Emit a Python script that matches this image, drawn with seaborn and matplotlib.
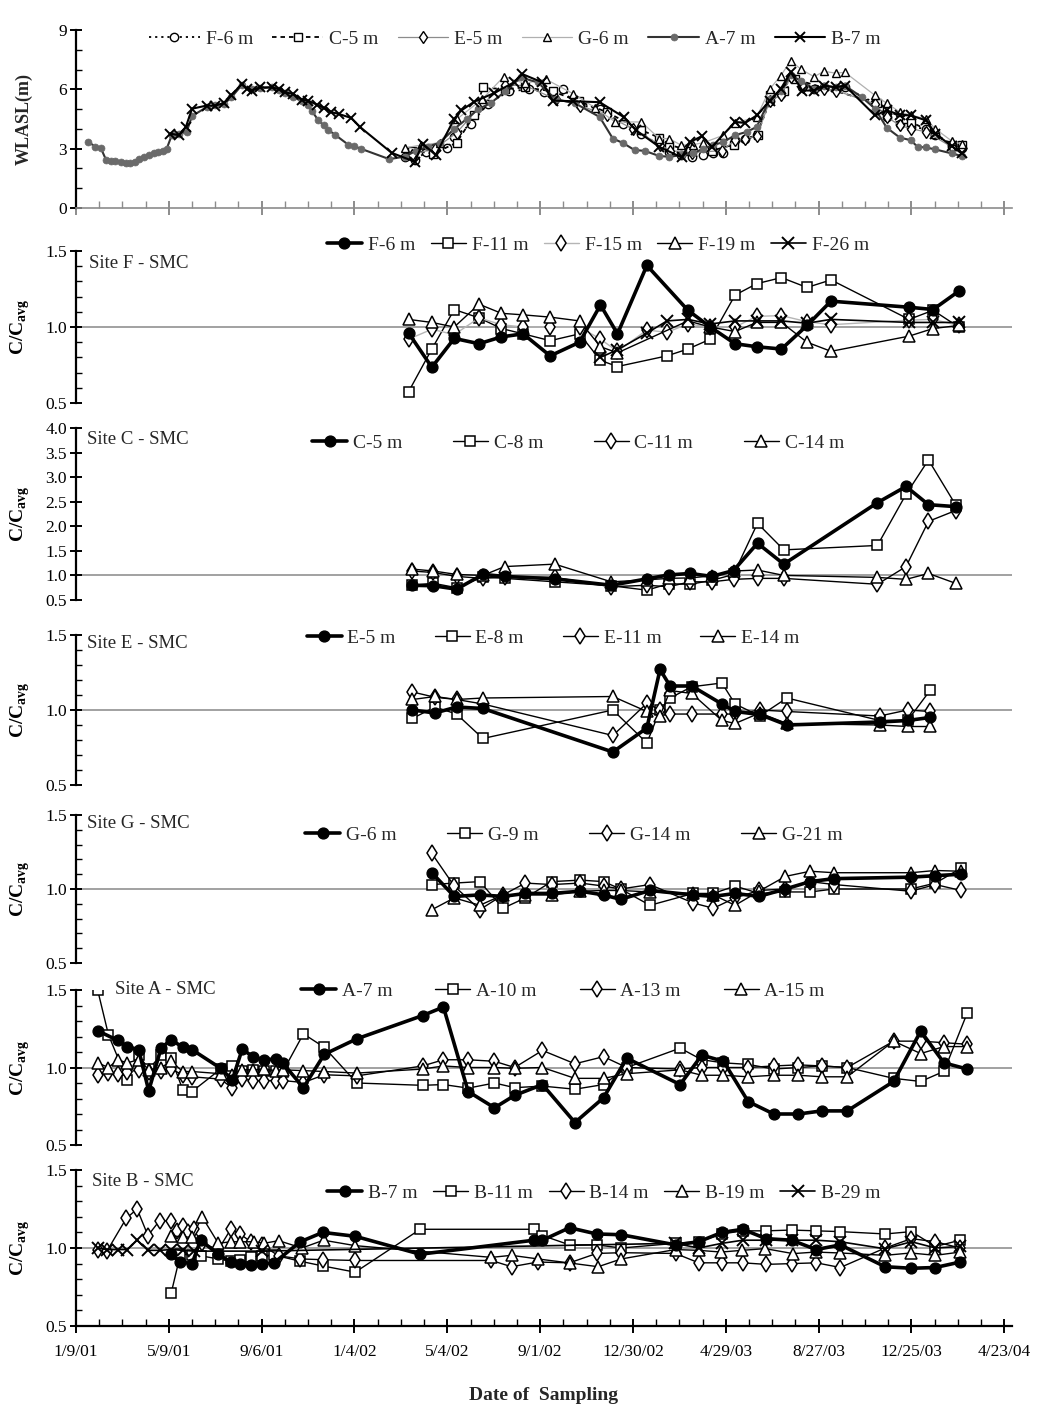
import numpy as np
import pandas as pd
import matplotlib
matplotlib.use("Agg")
import matplotlib.pyplot as plt
import matplotlib.dates as mdates
from matplotlib.ticker import MultipleLocator, FixedLocator, FormatStrFormatter
import seaborn as sns

sns.set_theme(style="white")
plt.rcParams["font.family"] = ["Liberation Serif", "DejaVu Serif"]
plt.rcParams["mathtext.fontset"] = "custom"
plt.rcParams["mathtext.rm"] = "Liberation Serif"
plt.rcParams["mathtext.bf"] = "Liberation Serif:bold"

START = pd.Timestamp("2001-01-09")
xtick_labels = ["1/9/01", "5/9/01", "9/6/01", "1/4/02", "5/4/02", "9/1/02",
                "12/30/02", "4/29/03", "8/27/03", "12/25/03", "4/23/04"]

# ---------------- WLASL (m) : days since 2001-01-09 ----------------
F6_w_days = [425, 438, 453, 480, 489, 511, 532, 560, 585, 605, 630, 651, 677, 707, 731, 767, 782, 796, 811, 824,
             837, 852, 865, 880, 897, 911, 924, 939, 954, 967, 982, 994, 1033, 1048, 1065, 1079, 1099, 1111, 1132, 1145]
F6_w = [2.59, 2.42, 2.84, 3.01, 3.6, 4.26, 5.27, 5.9, 6.0, 5.85, 6.0, 5.23, 5.0, 4.26, 3.76, 2.84, 2.68, 2.59, 2.68, 2.76,
        2.79, 3.46, 3.5, 3.68, 5.4, 5.77, 6.6, 6.1, 6.0, 6.1, 6.0, 6.1, 5.3, 4.6, 4.26, 4.1, 4.0, 3.68, 3.2, 3.01]
C5_w_days = [434, 462, 492, 515, 526, 554, 580, 616, 650, 686, 731, 754, 766, 794, 822, 850, 881, 897, 915, 930,
             1036, 1048, 1073, 1079, 1111, 1132, 1145]
C5_w = [2.9, 2.75, 3.3, 4.7, 6.1, 6.0, 6.1, 5.9, 5.4, 4.85, 3.93, 3.56, 3.2, 2.9, 2.9, 3.2, 3.7, 5.69, 5.9, 6.5,
        5.3, 4.93, 4.5, 4.35, 3.76, 3.18, 3.18]
E5_w_days = [435, 464, 492, 526, 555, 580, 620, 652, 686, 720, 755, 768, 796, 835, 852, 865, 880, 897, 911, 924,
             940, 967, 982, 1033, 1048, 1065, 1079, 1099, 1132, 1145]
E5_w = [2.7, 3.0, 3.8, 5.3, 6.2, 6.2, 5.5, 5.18, 4.68, 4.0, 3.2, 2.9, 2.8, 2.9, 3.43, 3.51, 3.63, 5.43, 5.69, 6.6,
        6.1, 6.02, 5.94, 5.27, 4.6, 4.18, 4.01, 3.85, 3.09, 3.01]
G6_w_days = [425, 446, 470, 493, 525, 553, 580, 607, 643, 671, 697, 731, 754, 767, 782, 797, 811, 837, 852, 880,
             897, 911, 924, 937, 954, 967, 982, 994, 1033, 1048, 1065, 1079, 1099, 1111, 1132, 1145]
G6_w = [3.04, 3.18, 3.3, 4.51, 5.5, 6.64, 6.3, 6.52, 5.77, 5.07, 4.35, 4.35, 3.51, 3.51, 3.18, 3.2, 3.3, 3.68, 4.3, 4.6,
        6.02, 6.69, 7.44, 7.02, 6.64, 6.91, 6.82, 6.86, 5.69, 5.3, 4.85, 4.7, 4.5, 4.0, 3.39, 3.23]
A7_w_days = [16, 25, 32, 39, 45, 51, 58, 64, 70, 76, 82, 88, 94, 101, 106, 112, 117, 124, 133, 143,
             150, 169, 180, 191, 201, 214, 227, 238, 253, 262, 270, 281, 292, 300, 305, 313, 320, 326, 335, 352,
             359, 368, 405, 425, 440, 455, 470, 489, 505, 520, 536, 555, 575, 597, 620, 645, 677, 694, 707, 722,
             735, 754, 767, 784, 797, 811, 824, 837, 852, 867, 880, 897, 911, 924, 937, 954, 967, 982, 994, 1016,
             1033, 1048, 1065, 1079, 1088, 1099, 1111, 1132, 1145]
A7_w = [3.34, 3.1, 3.04, 2.42, 2.39, 2.36, 2.34, 2.3, 2.27, 2.34, 2.5, 2.6, 2.68, 2.76, 2.84, 2.9, 2.97, 3.7, 3.75, 3.85,
        4.65, 5.1, 5.2, 5.25, 5.6, 6.2, 6.0, 6.05, 6.1, 5.95, 5.8, 5.6, 5.4, 5.2, 4.9, 4.45, 4.18, 3.95, 3.7, 3.2,
        3.13, 3.0, 2.47, 2.6, 2.9, 3.1, 3.3, 4.0, 4.5, 5.0, 5.3, 5.9, 6.6, 6.35, 5.5, 5.3, 4.6, 3.51, 3.29, 2.93,
        2.89, 2.63, 2.59, 2.68, 2.76, 3.0, 3.18, 3.34, 3.68, 3.85, 4.1, 5.52, 5.94, 6.7, 6.44, 6.02, 6.19, 6.1, 6.19, 5.6,
        5.02, 4.06, 3.56, 3.43, 3.09, 3.06, 2.96, 2.76, 2.63]
B7_w_days = [122, 133, 142, 150, 169, 180, 191, 201, 214, 221, 227, 238, 253, 262, 270, 281, 292, 300, 311, 320,
             330, 340, 356, 367, 408, 438, 448, 465, 489, 498, 515, 540, 566, 577, 603, 616, 642, 677, 708, 724,
             754, 783, 794, 809, 822, 852, 865, 880, 897, 911, 924, 939, 954, 967, 982, 994, 1033, 1048, 1065, 1079,
             1099, 1111, 1132, 1145]
B7_w = [3.76, 3.68, 4.1, 5.02, 5.18, 5.18, 5.3, 5.69, 6.27, 6.02, 5.94, 6.1, 6.1, 6.02, 5.85, 5.77, 5.47, 5.43, 5.23, 5.07,
        4.85, 4.75, 4.55, 4.1, 2.79, 2.34, 3.26, 2.68, 4.51, 4.93, 5.38, 5.8, 6.35, 6.77, 6.35, 5.43, 5.4, 5.35, 4.6, 3.93,
        3.09, 2.56, 3.34, 3.63, 3.09, 4.35, 4.3, 4.68, 5.43, 6.02, 6.86, 5.94, 5.94, 6.19, 6.1, 6.19, 4.68, 4.93, 4.72, 4.68,
        4.43, 3.76, 3.13, 2.76]

# ---------------- Site F (C/Cavg) ----------------
F6_days = [430, 460, 489, 521, 550, 578, 613, 651, 678, 700, 738, 791, 820, 852, 880, 912, 945, 976, 1077, 1108, 1141]
F6 = [0.96, 0.735, 0.925, 0.89, 0.935, 0.955, 0.81, 0.90, 1.145, 0.955, 1.405, 1.11, 1.0, 0.89, 0.87, 0.855, 1.01, 1.17,
      1.13, 1.115, 1.235]
F11_days = [430, 460, 489, 521, 550, 578, 613, 651, 678, 700, 764, 791, 820, 852, 880, 912, 945, 976, 1077, 1108, 1141]
F11 = [0.575, 0.855, 1.115, 1.06, 0.99, 0.955, 0.91, 0.955, 0.78, 0.74, 0.81, 0.855, 0.92, 1.21, 1.285, 1.325, 1.26,
       1.31, 1.05, 1.11, 1.0]
F15_days = [430, 460, 489, 521, 550, 578, 613, 651, 678, 700, 738, 764, 791, 820, 852, 880, 912, 945, 976, 1077, 1108, 1141]
F15 = [0.92, 0.985, 0.95, 1.06, 1.015, 1.0, 1.0, 1.0, 0.92, 0.84, 0.98, 0.965, 1.02, 1.0, 1.0, 1.07, 1.075, 1.035, 1.015,
       1.045, 1.05, 1.01]
F19_days = [430, 460, 489, 521, 550, 578, 613, 651, 678, 700, 791, 820, 852, 880, 912, 945, 976, 1077, 1108, 1141]
F19 = [1.05, 1.03, 1.0, 1.15, 1.09, 1.08, 1.065, 1.04, 0.87, 0.83, 1.04, 1.0, 0.97, 1.03, 1.03, 0.9, 0.84, 0.94, 0.99, 1.01]
F26_days = [678, 700, 738, 764, 791, 820, 852, 880, 912, 945, 976, 1077, 1108, 1141]
F26 = [0.80, 0.85, 0.96, 1.04, 1.05, 1.02, 1.04, 1.04, 1.04, 1.025, 1.05, 1.03, 1.03, 1.03]

# ---------------- Site C ----------------
C_days = [434, 462, 492, 526, 554, 619, 692, 738, 766, 794, 822, 850, 881, 915, 1036, 1073, 1102, 1137]
C5 = [0.80, 0.79, 0.72, 1.02, 0.98, 0.93, 0.80, 0.93, 1.01, 1.04, 0.98, 1.10, 1.655, 1.23, 2.48, 2.81, 2.44, 2.40]
C8 = [0.80, 0.84, 0.75, 0.97, 0.94, 0.87, 0.79, 0.70, 0.83, 0.82, 0.90, 1.02, 2.06, 1.52, 1.61, 2.65, 3.35, 2.44]
C11 = [1.09, 1.06, 0.98, 0.94, 0.97, 0.96, 0.77, 0.80, 0.77, 0.87, 0.87, 0.92, 0.94, 0.94, 0.82, 1.18, 2.10, 2.32]
C14 = [1.13, 1.09, 1.02, 1.0, 1.18, 1.23, 0.87, 0.91, 0.94, 0.95, 0.99, 1.09, 1.11, 1.0, 0.96, 0.92, 1.04, 0.84]

# ---------------- Site E ----------------
E_days = [435, 464, 492, 526, 694, 738, 755, 768, 796, 835, 852, 884, 919, 1039, 1075, 1104]
E5 = [1.0, 0.98, 1.02, 1.01, 0.72, 0.88, 1.27, 1.16, 1.16, 1.04, 0.99, 0.97, 0.90, 0.92, 0.93, 0.95]
E8 = [0.944, 1.02, 0.973, 0.81, 1.0, 0.78, 1.0, 1.08, 1.155, 1.18, 1.04, 0.96, 1.08, 0.93, 0.93, 1.13]
E11 = [1.12, 1.085, 1.07, 1.04, 0.83, 1.045, 1.0, 0.973, 0.973, 0.973, 0.973, 1.0, 0.99, 0.96, 1.0, 0.99]
E14 = [1.07, 1.09, 1.07, 1.08, 1.09, 0.99, 0.96, 1.13, 1.11, 0.93, 0.91, 0.98, 0.91, 0.90, 0.89, 0.89]

# ---------------- Site G ----------------
G_days = [460, 489, 522, 552, 581, 615, 652, 682, 704, 742, 798, 824, 852, 883, 917, 949, 980, 1079, 1111, 1144]
G6 = [1.11, 0.95, 0.96, 0.95, 0.97, 0.97, 0.985, 0.96, 0.93, 0.99, 0.96, 0.95, 0.97, 0.95, 1.0, 1.05, 1.07, 1.08, 1.09, 1.10]
G9 = [1.03, 1.04, 1.05, 0.87, 0.94, 1.05, 1.06, 1.05, 1.0, 0.89, 0.97, 0.97, 1.02, 0.97, 0.98, 0.98, 1.0, 1.0, 1.04, 1.14]
G14 = [1.24, 1.02, 0.86, 0.96, 1.04, 1.03, 1.04, 1.02, 1.0, 1.03, 0.905, 0.87, 0.94, 0.99, 1.0, 1.05, 1.03, 0.985, 1.03, 0.99]
G21 = [0.86, 0.94, 0.89, 0.96, 0.96, 0.96, 0.985, 0.99, 0.99, 0.98, 0.97, 0.96, 0.89, 0.985, 1.085, 1.12, 1.11, 1.11, 1.125, 1.12]

# ---------------- Site A ----------------
A7_days = [28, 54, 66, 81, 94, 110, 123, 138, 150, 187, 202, 215, 229, 243, 258, 267, 294, 321, 363, 448,
           475, 507, 541, 567, 603, 645, 682, 712, 781, 809, 837, 869, 902, 934, 964, 997, 1057, 1092, 1122, 1152]
A7 = [1.237, 1.175, 1.135, 1.115, 0.85, 1.125, 1.18, 1.13, 1.115, 0.995, 0.92, 1.12, 1.067, 1.05, 1.055, 1.03, 0.87,
      1.085, 1.185, 1.335, 1.39, 0.845, 0.74, 0.82, 0.89, 0.645, 0.805, 1.06, 0.89, 1.08, 1.04, 0.78, 0.70, 0.70, 0.72,
      0.72, 0.91, 1.235, 1.03, 0.99]
A10_days = [28, 42, 66, 81, 94, 110, 123, 138, 150, 187, 202, 215, 229, 243, 258, 267, 294, 321, 363, 448,
            475, 507, 541, 567, 603, 645, 682, 712, 781, 809, 837, 869, 902, 934, 964, 997, 1057, 1092, 1122, 1152]
A10 = [1.5, 1.21, 0.92, 1.08, 0.99, 1.08, 1.06, 0.856, 0.845, 0.99, 1.01, 0.98, 0.985, 0.98, 0.975, 0.97, 1.217, 1.13,
       0.9, 0.885, 0.89, 0.867, 0.9, 0.87, 0.88, 0.86, 0.89, 1.0, 1.125, 1.05, 1.03, 1.02, 0.99, 1.0, 1.01, 1.0, 0.93,
       0.91, 0.975, 1.35]
A_days = [28, 42, 54, 66, 81, 94, 110, 123, 138, 150, 187, 202, 215, 229, 243, 258, 267, 294, 321, 363, 448,
          475, 507, 541, 567, 603, 645, 682, 712, 781, 809, 837, 869, 902, 934, 964, 997, 1057, 1092, 1122, 1152]
A13 = [0.953, 0.964, 0.957, 0.97, 0.985, 0.974, 0.98, 0.99, 0.953, 0.94, 0.925, 0.867, 0.925, 0.916, 0.916, 0.916,
       0.916, 0.903, 0.953, 0.946, 1.01, 1.05, 1.05, 1.04, 1.0, 1.11, 1.024, 1.07, 1.0, 0.99, 1.0, 1.0, 1.0, 1.01,
       1.017, 1.01, 1.0, 1.17, 1.17, 1.16, 1.15]
A15 = [1.03, 1.0, 1.05, 1.03, 1.05, 0.985, 1.0, 1.04, 0.974, 0.974, 0.96, 0.953, 0.985, 0.985, 0.99, 0.98, 0.985,
       0.98, 0.974, 0.964, 0.99, 1.01, 1.0, 1.0, 0.995, 1.0, 0.93, 0.93, 0.96, 0.985, 0.95, 0.95, 0.94, 0.95, 0.95,
       0.94, 0.94, 1.17, 1.09, 1.135, 1.135]

# ---------------- Site B ----------------
B7_days = [123, 135, 150, 161, 184, 200, 212, 226, 240, 256, 290, 319, 361, 445, 592, 603, 638, 673, 705, 775,
           805, 835, 862, 892, 925, 957, 988, 1046, 1080, 1111, 1143]
B7 = [0.96, 0.91, 0.9, 1.05, 0.96, 0.91, 0.9, 0.89, 0.9, 0.905, 1.04, 1.1, 1.075, 0.96, 1.05, 1.05, 1.13, 1.09, 1.085,
      1.02, 1.04, 1.1, 1.12, 1.06, 1.05, 0.99, 1.02, 0.88, 0.87, 0.875, 0.91]
B11 = [0.71, 0.96, 0.955, 0.95, 0.93, 0.915, 0.925, 0.945, 0.95, 0.955, 0.915, 0.885, 0.845, 1.12, 1.12, 1.08, 1.02,
       1.02, 1.0, 1.03, 1.04, 1.09, 1.11, 1.11, 1.115, 1.11, 1.105, 1.09, 1.105, 1.01, 1.05]
B14_days = [28, 40, 65, 79, 93, 108, 123, 130, 138, 145, 152, 163, 184, 200, 212, 226, 240, 262, 290, 319,
            361, 537, 563, 597, 638, 673, 705, 775, 805, 835, 862, 892, 925, 957, 988, 1046, 1080, 1111, 1143]
B14 = [0.99, 0.98, 1.19, 1.25, 1.08, 1.175, 1.175, 1.11, 1.14, 1.1, 1.12, 1.03, 0.99, 1.12, 1.09, 1.04, 1.02, 0.95,
       0.93, 0.925, 0.92, 0.92, 0.88, 0.91, 0.905, 0.965, 0.97, 0.965, 0.905, 0.905, 0.905, 0.895, 0.9, 0.905, 0.875,
       1.0, 1.06, 1.04, 1.0]
B19_days = [123, 138, 150, 163, 184, 200, 212, 230, 243, 262, 292, 320, 361, 537, 563, 597, 638, 675, 705, 775,
            805, 834, 861, 891, 927, 956, 988, 1046, 1079, 1111, 1143]
B19 = [1.08, 1.07, 1.07, 1.2, 1.03, 1.04, 1.04, 1.04, 1.03, 1.047, 1.0, 1.05, 1.015, 0.94, 0.953, 0.93, 0.904, 0.88,
       0.93, 0.99, 0.985, 0.974, 0.985, 0.996, 0.964, 0.974, 0.968, 0.953, 0.968, 0.953, 0.974]
B29_days = [28, 40, 54, 66, 79, 93, 108, 123, 138, 152, 240, 774, 805, 835, 862, 892, 925, 957, 988, 1046, 1080, 1111, 1143]
B29 = [1.0, 0.99, 0.99, 0.99, 1.05, 0.985, 0.985, 0.99, 0.985, 0.98, 0.98, 1.03, 1.0, 1.03, 1.05, 1.05, 1.05, 1.05,
       1.04, 0.995, 1.04, 1.0, 1.01]


def to_dates(days):
    return START + pd.to_timedelta(np.asarray(days), unit="D")


W, H = 1050, 1415
fig = plt.figure(figsize=(W / 100, H / 100), dpi=100)
fig.patch.set_facecolor("white")

AX_L, AX_R = 76, 1012


def make_ax(top_px, bot_px):
    return fig.add_axes([AX_L / W, 1 - bot_px / H, (AX_R - AX_L) / W, (bot_px - top_px) / H])


def draw(ax, days, vals, label, **kw):
    df = pd.DataFrame({"date": to_dates(days), "v": vals})
    sns.lineplot(data=df, x="date", y="v", ax=ax, estimator=None, sort=False, label=label, **kw)


STY = {
    "thick": dict(color="black", linewidth=2.6, marker="o", markersize=7.8, markerfacecolor="black",
                  markeredgecolor="black", markeredgewidth=1),
    "sq": dict(color="black", linewidth=1.0, marker="s", markersize=6.8, markerfacecolor="white",
               markeredgecolor="black", markeredgewidth=1.1),
    "dia": dict(color="black", linewidth=1.0, marker="d", markersize=8, markerfacecolor="white",
                markeredgecolor="black", markeredgewidth=1.1),
    "dia_g": dict(color="#b5b5b5", linewidth=1.0, marker="d", markersize=8, markerfacecolor="white",
                  markeredgecolor="black", markeredgewidth=1.1),
    "tri": dict(color="black", linewidth=1.0, marker="^", markersize=8, markerfacecolor="white",
                markeredgecolor="black", markeredgewidth=1.1),
    "x": dict(color="black", linewidth=1.2, marker="x", markersize=8, markerfacecolor="none",
              markeredgecolor="black", markeredgewidth=1.4),
}

xmin = START
xmax = START + pd.Timedelta(days=1210)
major_dates = pd.date_range(START, periods=11, freq="120D")
minor_dates = pd.date_range(START, periods=41, freq="30D")


def style_axis(ax, ylim, ymajor, yminor, fmt, show_x=False, xaxis_color="black", xlabels=False):
    ax.set_xlim(xmin, xmax)
    ax.set_ylim(*ylim)
    ax.set_facecolor("white")
    for s in ["top", "right"]:
        ax.spines[s].set_visible(False)
    ax.spines["left"].set_color("black")
    ax.spines["left"].set_linewidth(1.6)
    ax.yaxis.set_major_locator(MultipleLocator(ymajor))
    if yminor:
        ax.yaxis.set_minor_locator(MultipleLocator(yminor))
    ax.yaxis.set_major_formatter(FormatStrFormatter(fmt))
    ax.tick_params(axis="y", which="major", direction="inout", length=9, width=1.4, colors="black",
                   labelsize=12.5, left=True, pad=2)
    ax.tick_params(axis="y", which="minor", direction="in", length=4, width=1.0, colors="black", left=True)
    ax.set_xlabel("")
    if show_x:
        ax.spines["bottom"].set_color(xaxis_color)
        ax.spines["bottom"].set_linewidth(1.6 if xlabels else 1.2)
        ax.xaxis.set_major_locator(FixedLocator(mdates.date2num(major_dates)))
        ax.xaxis.set_minor_locator(FixedLocator(mdates.date2num(minor_dates)))
        ax.tick_params(axis="x", which="major", direction="inout", length=10, width=1.4, colors=xaxis_color,
                       bottom=True, labelsize=12.5, pad=8, labelcolor="black")
        ax.tick_params(axis="x", which="minor", direction="in", length=5, width=1.0, colors=xaxis_color,
                       bottom=True)
        if xlabels:
            ax.set_xticklabels(xtick_labels)
        else:
            ax.set_xticklabels([])
    else:
        ax.spines["bottom"].set_visible(False)
        ax.set_xticks([])
        ax.set_xticks([], minor=True)


def put_legend(ax, order, cx, cy, colsp, hl=2.0):
    h, l = ax.get_legend_handles_labels()
    d = dict(zip(l, h))
    ax.legend([d[k] for k in order], order, loc="center", bbox_to_anchor=(cx / W, 1 - cy / H),
              bbox_transform=fig.transFigure, ncol=len(order), frameon=False, fontsize=14,
              handlelength=hl, handletextpad=0.3, columnspacing=colsp, borderaxespad=0, borderpad=0)


def conc_ylabel(ax):
    ax.set_ylabel(r"C/C$_{\mathbf{avg}}$", fontsize=14, fontweight="bold", color="black")
    ax.yaxis.set_label_coords(-0.047, 0.5)


# ================= Panel 1 : WLASL =================
ax0 = make_ax(30, 208)
draw(ax0, F6_w_days, F6_w, "F-6 m", color="black", linewidth=1.3, linestyle=(0, (1.2, 2.2)), marker="o",
     markersize=6, markerfacecolor="white", markeredgecolor="black", markeredgewidth=1.0)
draw(ax0, C5_w_days, C5_w, "C-5 m", color="black", linewidth=1.3, linestyle=(0, (2.5, 2.2)), marker="s",
     markersize=6, markerfacecolor="white", markeredgecolor="black", markeredgewidth=1.0)
draw(ax0, E5_w_days, E5_w, "E-5 m", color="#8c8c8c", linewidth=0.9, marker="d", markersize=6,
     markerfacecolor="white", markeredgecolor="black", markeredgewidth=1.0)
draw(ax0, G6_w_days, G6_w, "G-6 m", color="#b0b0b0", linewidth=0.9, marker="^", markersize=6,
     markerfacecolor="white", markeredgecolor="black", markeredgewidth=1.0)
draw(ax0, A7_w_days, A7_w, "A-7 m", color="#333333", linewidth=1.5, marker="o", markersize=5,
     markerfacecolor="#6a6a6a", markeredgecolor="#6a6a6a", markeredgewidth=0.5)
draw(ax0, B7_w_days, B7_w, "B-7 m", color="black", linewidth=1.5, marker="x", markersize=7.5,
     markerfacecolor="none", markeredgecolor="black", markeredgewidth=1.4)
style_axis(ax0, (0, 9), 3, 1, "%d", show_x=True, xaxis_color="#8c8c8c")
ax0.set_ylabel("WLASL(m)", fontsize=13, fontweight="bold")
ax0.yaxis.set_label_coords(-0.046, 0.5)
put_legend(ax0, ["F-6 m", "C-5 m", "E-5 m", "G-6 m", "A-7 m", "B-7 m"], 515, 39, 1.0, hl=2.6)

# ================= Site F =================
axF = make_ax(251, 403)
axF.axhline(1.0, color="#9a9a9a", linewidth=1.3, zorder=0)
draw(axF, F11_days, F11, "F-11 m", **STY["sq"])
draw(axF, F15_days, F15, "F-15 m", **STY["dia_g"])
draw(axF, F19_days, F19, "F-19 m", **STY["tri"])
draw(axF, F26_days, F26, "F-26 m", **STY["x"])
draw(axF, F6_days, F6, "F-6 m", **STY["thick"])
style_axis(axF, (0.5, 1.5), 0.5, 0.1, "%.1f")
conc_ylabel(axF)
put_legend(axF, ["F-6 m", "F-11 m", "F-15 m", "F-19 m", "F-26 m"], 598, 245, 0.8, hl=1.8)
fig.text(89 / W, 1 - 263 / H, "Site F - SMC", fontsize=13.5, va="center", ha="left")

# ================= Site C =================
axC = make_ax(428, 600)
axC.axhline(1.0, color="#9a9a9a", linewidth=1.3, zorder=0)
draw(axC, C_days, C8, "C-8 m", **STY["sq"])
draw(axC, C_days, C11, "C-11 m", **STY["dia"])
draw(axC, C_days, C14, "C-14 m", **STY["tri"])
draw(axC, C_days, C5, "C-5 m", **STY["thick"])
style_axis(axC, (0.5, 4.0), 0.5, None, "%.1f")
conc_ylabel(axC)
put_legend(axC, ["C-5 m", "C-8 m", "C-11 m", "C-14 m"], 578, 443, 2.6, hl=1.8)
fig.text(87 / W, 1 - 440 / H, "Site C - SMC", fontsize=13.5, va="center", ha="left")

# ================= Site E =================
axE = make_ax(635, 785)
axE.axhline(1.0, color="#9a9a9a", linewidth=1.3, zorder=0)
draw(axE, E_days, E8, "E-8 m", **STY["sq"])
draw(axE, E_days, E11, "E-11 m", **STY["dia"])
draw(axE, E_days, E14, "E-14 m", **STY["tri"])
draw(axE, E_days, E5, "E-5 m", **STY["thick"])
style_axis(axE, (0.5, 1.5), 0.5, 0.1, "%.1f")
conc_ylabel(axE)
put_legend(axE, ["E-5 m", "E-8 m", "E-11 m", "E-14 m"], 553, 638, 2.0, hl=1.8)
fig.text(87 / W, 1 - 644 / H, "Site E - SMC", fontsize=13.5, va="center", ha="left")

# ================= Site G =================
axG = make_ax(815, 963)
axG.axhline(1.0, color="#9a9a9a", linewidth=1.3, zorder=0)
draw(axG, G_days, G9, "G-9 m", **STY["sq"])
draw(axG, G_days, G14, "G-14 m", **STY["dia"])
draw(axG, G_days, G21, "G-21 m", **STY["tri"])
draw(axG, G_days, G6, "G-6 m", **STY["thick"])
style_axis(axG, (0.5, 1.5), 0.5, 0.1, "%.1f")
conc_ylabel(axG)
put_legend(axG, ["G-6 m", "G-9 m", "G-14 m", "G-21 m"], 574, 835, 2.6, hl=1.8)
fig.text(87 / W, 1 - 823 / H, "Site G - SMC", fontsize=13.5, va="center", ha="left")

# ================= Site A =================
axA = make_ax(990, 1145)
axA.axhline(1.0, color="#9a9a9a", linewidth=1.3, zorder=0)
draw(axA, A10_days, A10, "A-10 m", **STY["sq"])
draw(axA, A_days, A13, "A-13 m", **STY["dia"])
draw(axA, A_days, A15, "A-15 m", **STY["tri"])
draw(axA, A7_days, A7, "A-7 m", **STY["thick"])
style_axis(axA, (0.5, 1.5), 0.5, 0.1, "%.1f")
conc_ylabel(axA)
put_legend(axA, ["A-7 m", "A-10 m", "A-13 m", "A-15 m"], 563, 991, 2.2, hl=1.8)
fig.text(115 / W, 1 - 989 / H, "Site A - SMC", fontsize=13.5, va="center", ha="left")

# ================= Site B =================
axB = make_ax(1170, 1326)
axB.axhline(1.0, color="#9a9a9a", linewidth=1.3, zorder=0)
draw(axB, B7_days, B11, "B-11 m", **STY["sq"])
draw(axB, B14_days, B14, "B-14 m", **STY["dia"])
draw(axB, B19_days, B19, "B-19 m", **STY["tri"])
draw(axB, B29_days, B29, "B-29 m", **STY["x"])
draw(axB, B7_days, B7, "B-7 m", **STY["thick"])
style_axis(axB, (0.5, 1.5), 0.5, 0.1, "%.1f", show_x=True, xaxis_color="black", xlabels=True)
conc_ylabel(axB)
put_legend(axB, ["B-7 m", "B-11 m", "B-14 m", "B-19 m", "B-29 m"], 604, 1193, 0.8, hl=1.8)
fig.text(92 / W, 1 - 1182 / H, "Site B - SMC", fontsize=13.5, va="center", ha="left")

fig.text(544 / W, 1 - 1395 / H, "Date of  Sampling", fontsize=14, fontweight="bold", ha="center", va="center")

fig.savefig("out.png", dpi=100, facecolor="white")
